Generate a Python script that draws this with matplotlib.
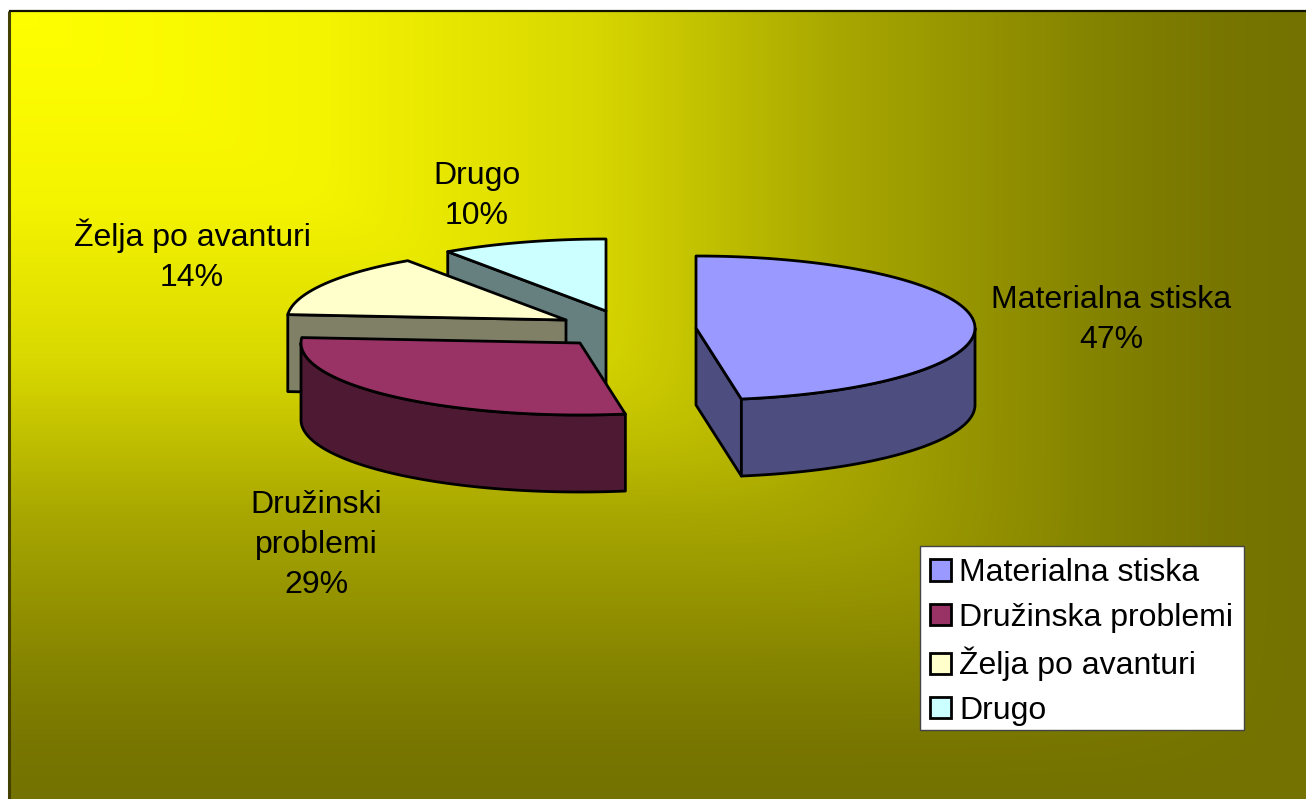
#!/usr/bin/env python3

import matplotlib
matplotlib.use('Agg')
import matplotlib.pyplot as plt
import numpy as np
from matplotlib.patches import Patch, Polygon, Rectangle

plt.rcParams['font.family'] = ['Liberation Sans', 'DejaVu Sans']

# data
categories = ["Materialna stiska", "Družinska problemi", "Želja po avanturi", "Drugo"]
slice_labels = ["Materialna stiska", "Družinski\nproblemi", "Želja po avanturi", "Drugo"]
values = [47.4, 28.8, 14.2, 9.6]

# styles and layout, in pixels of the picture
top_colors = ["#9999FF", "#993366", "#FFFFCC", "#CCFFFF"]
side_colors = ["#4D4D80", "#4D1933", "#808066", "#668080"]
centers = [(696, 328), (580, 343), (566, 320), (606, 311)]
label_pos = [(1111, 320), (316, 545), (192, 256), (477, 196)]
RX = 279
RY = 72
DEPTH = 77
LW = 2

W, H = 1306, 799
LEFT, TOP = 9, 11

fig = plt.figure(figsize=(W / 100, H / 100), dpi=100)
ax = fig.add_axes([0, 0, 1, 1])

# background, gradient from the top left corner
xx, yy = np.meshgrid(np.linspace(0, 1, 1297), np.linspace(0, 1, 788))
t = (xx ** 16 + yy ** 16) ** (1 / 16)
ramp_t = [0, 0.24, 0.45, 0.64, 0.75, 0.83, 0.87, 0.93, 1]
ramp_c = [255, 245, 216, 168, 148, 134, 128, 120, 116]
shade = np.interp(t, ramp_t, ramp_c) / 255
bg = np.dstack([shade, shade * 0.985 + 0.015 * (1 - t), np.zeros_like(shade)])
ax.imshow(bg, extent=[LEFT, W, H, TOP], aspect='auto', zorder=0, interpolation='bilinear')
ax.set_xlim(0, W)
ax.set_ylim(H, 0)
ax.axis('off')
ax.plot([LEFT, LEFT], [H, TOP], color='#444000', lw=2.2, zorder=1, solid_capstyle='butt')
ax.plot([LEFT, W], [TOP, TOP], color='#111100', lw=1.6, zorder=1, solid_capstyle='butt')


def rim(cx, cy, a0, a1, n=80):
    th = np.radians(np.linspace(a0, a1, n))
    return np.column_stack([cx + RX * np.sin(th), cy - RY * np.cos(th)])


# angles run clockwise from 12 o'clock
ends = np.cumsum(values) / sum(values) * 360
starts = np.concatenate([[0], ends[:-1]])
drop = np.array([0, DEPTH])

# the pie is drawn back to front
for i in [3, 2, 1, 0]:
    cx, cy = centers[i]
    arc = rim(cx, cy, starts[i], ends[i])
    a = np.array([cx, cy])
    kw = dict(edgecolor='black', lw=LW, joinstyle='round', zorder=3 + (3 - i))

    # cut faces, only those turned to the viewer
    if np.sin(np.radians(starts[i])) < -1e-6:
        p = arc[0]
        ax.add_patch(Polygon([a, p, p + drop, a + drop], closed=True, facecolor=side_colors[i], **kw))
    if np.sin(np.radians(ends[i])) > 1e-6:
        p = arc[-1]
        ax.add_patch(Polygon([a, p, p + drop, a + drop], closed=True, facecolor=side_colors[i], **kw))

    # outer wall
    a0 = max(starts[i], 90)
    a1 = min(ends[i], 270)
    if a1 > a0:
        wall = rim(cx, cy, a0, a1)
        ax.add_patch(Polygon(np.vstack([wall, (wall + drop)[::-1]]), closed=True,
                             facecolor=side_colors[i], **kw))

    ax.add_patch(Polygon(np.vstack([a, arc]), closed=True, facecolor=top_colors[i], **kw))

    ax.text(label_pos[i][0], label_pos[i][1], f"{slice_labels[i]}\n{values[i]:.0f}%",
            ha='center', va='center', fontsize=23, linespacing=1.45, zorder=10)

# legend box and contents
ax.add_patch(Rectangle((920, 546), 324, 184, facecolor='white', edgecolor='#444444', lw=1, zorder=11))
handles = [Patch(facecolor=c, edgecolor='black', lw=LW) for c in top_colors]
leg = ax.legend(handles, categories, loc='upper left', bbox_to_anchor=(918 / W, 1 - 546 / H),
                bbox_transform=ax.transAxes, borderaxespad=0, fontsize=23, frameon=False,
                handlelength=0.65, handleheight=0.65, handletextpad=0.26, labelspacing=0.45,
                borderpad=0.38)
leg.set_zorder(12)

plt.savefig('out.png', dpi=100)
